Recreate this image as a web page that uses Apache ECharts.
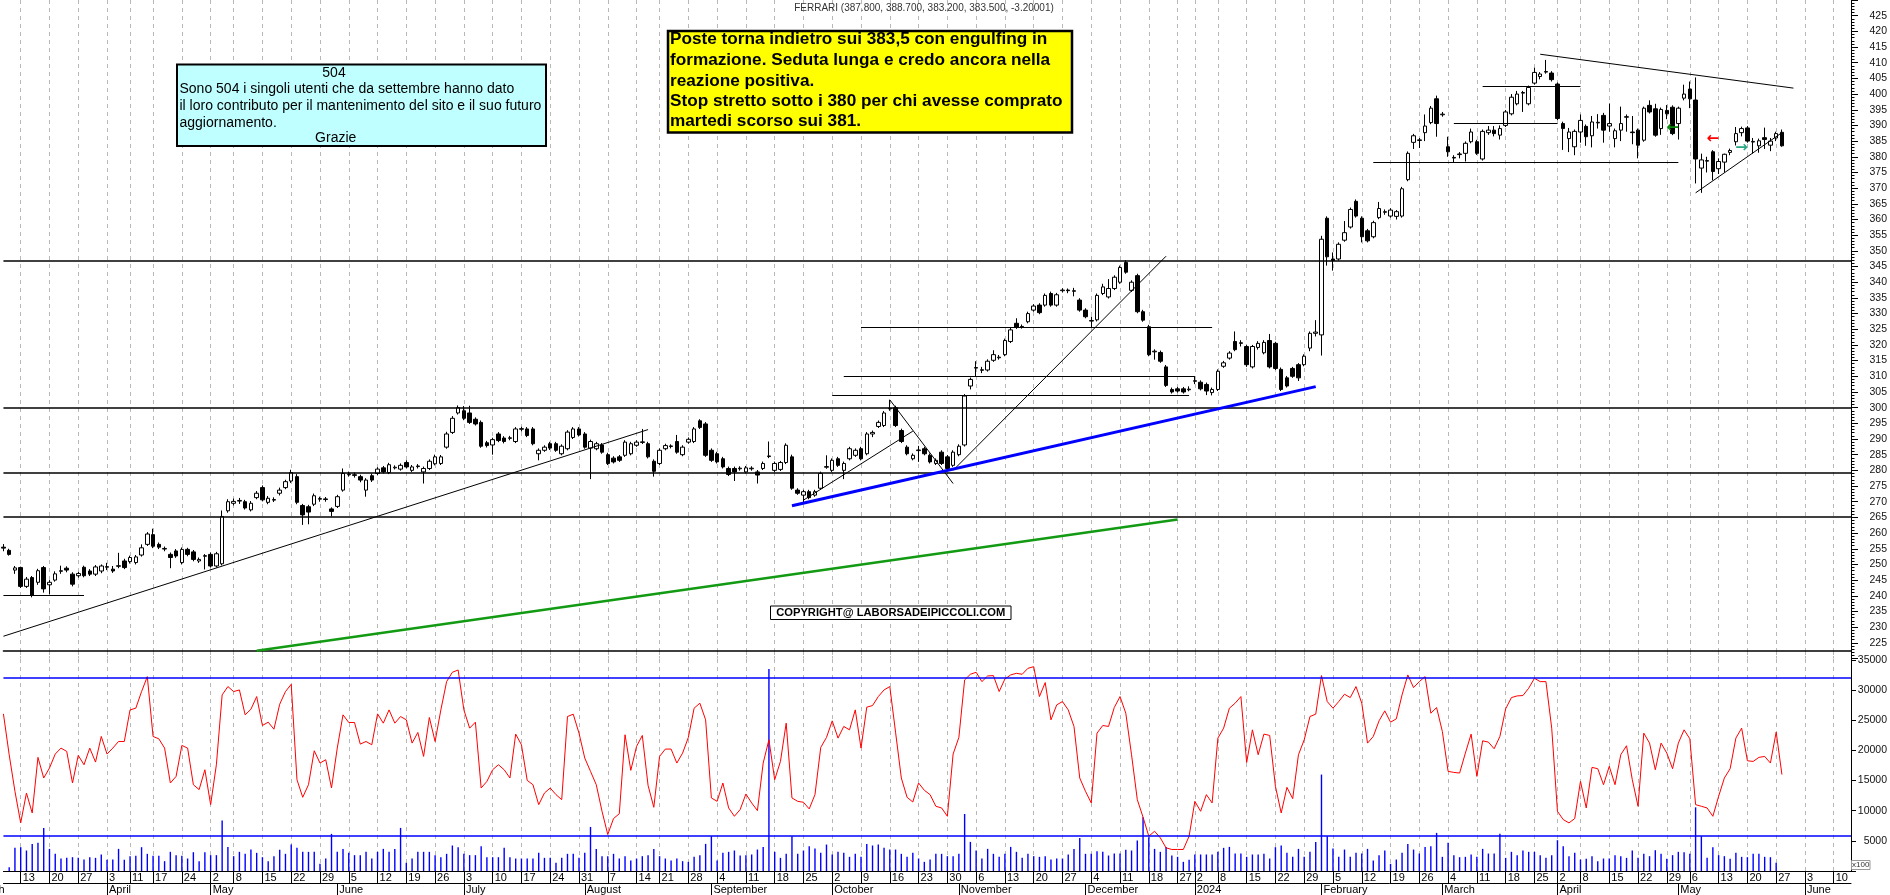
<!DOCTYPE html>
<html><head><meta charset="utf-8">
<script src="https://cdn.jsdelivr.net/npm/echarts/dist/echarts.min.js"></script>
<style>html,body{margin:0;padding:0;background:#fff;overflow:hidden}#c{width:1890px;height:895px}</style>
</head><body><div id="c"></div>
<script>
// ---------- calendar (Borsa Italiana trading days) ----------
const holidays = ['2023-04-07','2023-04-10','2023-05-01','2023-08-15','2023-12-25','2023-12-26','2024-01-01','2024-03-29','2024-04-01','2024-05-01'];
function buildDays(start, end){
  const out=[]; const d=new Date(start+'T00:00:00Z'); const e=new Date(end+'T00:00:00Z');
  while(d<=e){const wd=d.getUTCDay(); const s=d.toISOString().slice(0,10);
    if(wd!==0&&wd!==6&&holidays.indexOf(s)<0) out.push(s); d.setUTCDate(d.getUTCDate()+1);}
  return out;
}
const categories = buildDays('2023-03-08','2024-06-13');
const monthNames = ['January','February','March','April','May','June','July','August','September','October','November','December'];

// ---------- price candles [open, close, low, high] from 2023-03-08 ----------
const candles = [
[255.5,255.2,254.2,256.5],[254.5,253.2,252.8,255.0],[248.2,248.9,247.0,249.5],
[249.0,243.0,242.5,249.3],[243.0,245.3,242.5,246.0],[245.8,240.2,239.5,246.3],[244.3,248.0,243.5,248.6],[249.0,242.2,241.0,249.5],
[243.5,244.3,240.5,245.0],[245.0,247.0,244.5,247.8],[247.8,248.0,247.0,249.6],[248.8,248.2,247.5,249.4],[246.9,243.7,243.0,247.5],
[246.4,247.1,245.8,247.6],[249.1,246.4,245.9,249.6],[247.9,246.9,246.3,248.5],[246.9,249.2,246.3,249.8],[247.9,249.5,247.2,250.0],
[249.1,249.3,248.2,250.5],[248.5,247.9,247.3,249.5],[249.4,249.6,248.8,253.7],[251.1,249.0,248.5,251.8],
[250.9,252.2,250.3,252.8],[250.6,252.4,250.0,253.0],[253.0,255.3,252.5,256.4],[256.4,259.7,255.9,260.3],
[259.5,255.8,255.2,261.4],[256.4,255.5,254.9,257.0],[254.9,255.1,254.2,255.7],[253.2,252.2,248.8,253.8],[254.3,252.7,252.1,254.9],
[250.6,254.8,250.0,255.4],[254.8,253.2,252.6,255.3],[254.0,251.6,251.0,254.6],[251.1,251.6,250.5,252.2],[252.6,252.8,248.4,253.3],
[253.2,249.5,249.0,253.8],[249.5,253.4,249.0,254.0],[250.2,265.3,249.7,267.2],[267.1,270.0,266.5,270.8],
[269.5,270.1,268.8,271.0],[270.2,270.4,269.3,271.2],[270.0,268.0,267.5,270.6],[267.4,269.5,266.9,270.2],[271.3,272.7,270.8,273.4],
[274.5,270.6,270.1,275.2],[269.8,271.1,269.2,271.8],[270.5,270.7,269.9,271.4],[272.7,273.7,272.0,274.5],[274.5,276.4,274.0,277.0],
[276.6,279.3,276.0,280.2],[278.0,269.8,269.2,278.8],[268.8,265.8,262.6,269.3],[268.4,266.7,262.8,269.0],[269.2,271.9,268.6,272.6],
[270.8,271.0,270.0,271.6],[270.9,270.7,270.0,271.5],[267.7,266.9,265.3,268.2],[268.5,271.6,268.0,272.2],[273.7,279.0,273.2,280.6],
[278.6,278.8,278.0,279.6],[278.6,278.4,277.7,279.3],[278.0,276.9,276.2,278.6],[273.7,276.9,271.6,277.5],[278.3,276.9,276.3,279.0],
[279.0,280.4,278.5,281.0],[280.8,279.5,279.0,281.4],[279.3,281.8,278.8,282.4],[280.8,281.0,280.3,281.6],[280.4,281.6,279.9,282.2],
[282.5,281.1,280.6,283.2],[280.0,281.1,279.5,281.7],[281.2,281.4,280.6,282.0],[279.5,280.6,275.8,281.2],[280.6,282.9,280.1,283.5],
[282.1,284.3,281.6,285.0],[282.2,284.3,281.7,284.9],[287.4,291.6,286.9,292.3],[292.1,296.6,291.6,297.3],[298.3,300.0,297.8,300.7],
[299.0,296.6,296.0,300.5],[298.3,295.3,294.8,300.6],[296.3,294.8,294.3,296.9],[295.3,287.7,287.2,295.9],[288.8,287.9,287.3,289.4],
[288.1,289.8,285.0,290.4],[291.6,289.5,289.0,292.2],[290.3,289.2,288.6,290.9],[290.2,290.4,289.6,291.0],[289.2,293.2,288.7,293.8],
[293.1,293.3,292.4,293.9],[293.2,291.1,290.6,293.8],[293.2,288.5,288.0,293.8],[285.3,286.4,283.2,287.0],[286.4,287.4,285.9,288.0],
[288.5,287.1,286.5,289.1],[288.5,286.4,285.9,289.1],[285.3,287.7,284.8,288.3],[286.9,292.2,286.4,292.8],[290.5,293.2,290.0,293.8],
[293.2,291.3,290.8,293.8],[291.6,287.4,286.9,292.2],[287.1,289.2,277.2,289.8],[286.9,288.5,286.4,289.1],[288.1,285.8,285.3,288.7],
[285.0,282.2,281.7,285.6],[283.9,282.7,282.2,284.5],[284.3,283.2,282.7,284.9],[284.8,289.0,284.3,289.6],[285.3,288.5,284.8,289.1],
[288.0,289.0,287.5,289.6],[288.9,289.1,288.4,293.2],[288.5,284.3,283.8,289.1],[282.9,279.7,278.0,283.5],
[282.2,286.4,281.7,287.0],[286.9,287.9,286.4,288.5],[287.6,287.8,287.0,288.3],[289.2,285.8,285.3,291.3],[285.0,287.4,284.5,288.0],
[289.0,289.9,288.5,290.5],[289.2,293.2,288.7,293.8],[295.8,293.7,293.2,296.3],[294.8,284.8,284.3,295.4],[286.4,283.2,282.7,287.0],
[285.3,282.7,282.2,285.9],[283.7,281.1,280.6,284.3],[280.6,278.7,278.2,281.2],[280.6,279.5,276.6,281.2],[280.5,280.7,279.9,281.3],
[279.5,280.8,279.0,281.4],[280.5,280.7,279.9,281.3],[279.5,278.5,275.8,280.1],[280.6,282.2,280.1,282.8],[284.4,284.6,283.9,289.2],
[280.0,282.2,279.5,282.8],[280.3,282.5,279.8,283.0],[282.5,288.0,282.0,288.6],[284.3,274.3,273.8,285.0],[273.7,272.7,272.2,274.3],
[272.1,273.2,269.5,273.8],[273.2,271.3,270.8,273.8],[272.1,273.2,271.6,273.8],[274.3,279.0,273.8,279.6],[281.0,281.2,280.5,284.8],
[280.0,283.2,279.5,283.8],[283.7,281.6,281.1,284.3],[280.0,282.2,277.2,282.8],[283.7,286.9,283.2,287.5],[284.8,286.4,284.3,287.0],
[286.9,283.7,283.2,287.5],[285.3,291.6,284.8,292.2],[291.6,292.1,290.6,292.7],[294.0,295.3,293.5,295.9],[294.3,298.3,293.8,298.9],
[299.6,299.8,299.0,302.5],[300.0,294.3,293.8,300.6],[292.7,289.2,288.7,293.3],[287.4,285.3,284.8,288.0],[283.7,284.8,283.2,285.4],
[286.3,286.5,282.7,287.8],[286.9,285.3,284.8,287.5],[284.8,282.7,282.2,285.4],[282.2,283.2,281.7,283.8],[285.8,282.2,281.7,286.4],
[284.3,280.6,280.1,284.9],[281.6,285.8,281.1,286.4],[285.0,287.7,284.5,288.3],[288.1,303.7,287.6,304.3],[306.9,309.0,305.8,309.6],
[312.6,312.8,310.0,314.8],[311.9,312.1,311.0,313.0],[312.0,314.8,311.5,315.4],[315.1,316.9,314.6,318.3],[315.9,316.1,315.3,316.8],
[316.9,321.4,316.4,322.0],[321.1,324.8,320.6,325.4],[326.9,325.6,325.1,328.5],[325.7,325.9,325.2,326.5],[327.4,330.0,326.9,330.6],
[331.1,332.4,330.6,333.0],[332.7,330.3,329.8,333.3],[332.7,335.8,332.2,336.4],[336.4,332.7,332.2,337.0],[332.7,336.0,332.2,336.6],
[337.3,337.5,336.7,338.1],[337.5,337.3,336.5,338.0],[337.1,337.3,335.5,338.2],[334.3,331.1,330.6,334.9],[331.1,329.0,328.5,331.7],
[327.6,327.8,325.5,329.0],[328.0,335.8,327.5,336.4],[336.4,338.5,335.9,339.5],[335.3,338.0,334.8,341.0],[338.0,341.6,337.5,342.2],
[340.0,344.7,339.5,345.3],[346.3,343.2,342.7,347.0],[337.4,340.0,336.9,340.6],[342.1,330.6,330.1,342.7],[330.6,327.9,327.4,331.2],
[325.8,316.9,316.4,326.4],[317.8,318.0,315.3,318.6],[317.6,314.8,314.3,318.2],[313.0,307.1,306.6,313.6],[305.8,305.0,304.5,306.4],
[306.0,305.3,304.8,306.6],[306.0,305.0,304.5,306.6],[305.7,305.9,305.2,306.8],
[308.4,308.6,307.5,310.0],[308.1,306.0,305.5,308.7],[307.4,305.3,304.0,308.0],[304.8,305.8,303.9,306.4],
[305.8,311.6,305.3,312.2],[313.2,314.3,312.7,314.9],[315.8,317.4,315.3,318.0],[321.1,318.5,318.0,324.3],[320.5,320.7,319.5,321.5],
[319.5,313.7,313.0,320.0],[313.0,319.5,312.5,320.0],[319.2,320.5,318.5,321.2],[317.5,320.8,317.0,321.5],[321.4,313.0,312.5,323.5],
[320.5,312.5,312.0,321.0],[312.2,305.8,305.3,312.8],[309.5,306.9,306.4,310.1],[312.5,310.0,309.5,313.0],[313.7,309.5,308.5,314.2],
[313.7,316.4,313.2,317.0],[319.0,323.7,318.0,324.3],[323.7,324.1,322.7,327.9],[323.2,353.7,316.6,354.8],[360.4,348.1,345.3,361.0],
[347.4,346.9,343.7,349.5],[347.4,352.1,346.9,352.7],[353.4,355.8,352.9,359.5],[357.6,363.2,357.1,363.8],[365.8,361.1,360.6,366.4],
[360.4,354.5,352.7,361.0],[356.4,353.2,352.7,357.0],[354.5,359.0,354.0,359.6],[360.6,363.5,360.1,365.6],[362.3,362.5,361.5,363.2],
[361.1,363.0,360.6,363.6],[361.0,362.5,360.0,363.0],[361.1,369.8,360.6,370.4],[372.7,381.1,372.2,381.7],[384.6,386.7,382.5,387.3],
[385.2,385.4,382.8,386.0],[387.7,389.8,385.0,393.5],[390.9,395.5,390.4,396.2],[398.5,390.6,386.4,399.5],[393.4,393.6,392.8,394.3],
[383.2,381.6,380.0,386.4],[379.8,379.6,378.2,380.5],[380.7,380.9,379.5,381.5],[381.1,384.3,378.5,384.9],[384.8,387.9,384.3,389.0],
[384.8,381.1,380.6,385.4],[379.3,388.1,378.8,388.7],[387.7,388.5,387.0,389.8],[388.5,387.4,386.5,389.8],[386.9,389.0,385.5,390.0],
[390.0,394.3,389.5,394.9],[393.7,399.0,393.2,400.0],[396.9,400.0,396.4,401.0],[400.3,400.5,394.3,401.0],[396.9,402.1,396.4,402.7],
[403.5,406.9,403.0,408.4],[405.6,406.4,404.7,407.0],[407.0,407.2,406.5,410.9],[406.7,404.6,404.0,407.3],
[403.2,392.2,391.7,403.7],[390.6,389.0,382.2,391.2],[385.8,387.9,381.5,389.2],[383.2,388.1,380.5,388.7],
[387.9,391.6,384.5,393.5],[389.7,386.4,383.5,390.3],[386.7,391.1,383.0,393.0],[390.8,391.0,389.0,393.6],[393.2,388.5,384.5,394.0],
[389.8,390.6,388.0,397.0],[385.8,388.3,383.0,389.0],[388.5,390.6,385.0,396.0],[392.6,392.8,388.0,393.5],[387.9,387.7,384.0,393.0],
[388.5,383.7,379.5,389.0],[385.3,395.5,384.8,396.0],[396.4,394.3,393.8,398.0],[395.3,386.9,386.4,396.9],[389.0,395.1,387.0,395.7],
[394.8,393.7,392.0,396.5],[395.8,387.4,386.9,396.4],[390.6,395.5,385.5,396.0],[398.7,400.0,398.0,403.0],
[401.6,398.5,395.5,404.0],[398.1,379.3,371.5,405.3],[376.4,379.0,368.5,381.0],[378.6,378.8,375.0,380.0],[381.6,375.3,372.5,382.1],
[376.2,378.5,374.5,379.5],[378.3,380.8,375.0,381.0],[381.4,382.0,380.5,382.6],[384.8,387.4,383.6,389.5],[387.7,389.0,386.5,389.6],
[389.2,385.0,384.5,389.8],[384.7,384.9,381.0,386.0],[383.5,385.1,381.3,385.8],[386.1,385.5,382.5,389.3],[383.7,385.0,381.8,386.0],
[386.0,387.4,385.0,388.0],[387.8,383.5,383.2,388.7]
];

// ---------- lower panel: oscillator (red) and volume (x100), from 2023-03-08 ----------
const oscillator = [
26070,19290,13220,7980,12940,9630,18850,15430,17080,19400,20390,19840,14600,19180,17630,20390,18070,22320,19400,20390,
21490,21490,26730,27010,29770,32250,22320,21930,20390,14600,15700,20830,20390,14320,13500,16800,11010,17630,29220,30600,
29770,30040,25910,26840,28940,24140,24690,23530,27670,29770,30980,15150,12230,14320,19950,17910,18460,13770,20390,25910,
24640,24640,21050,21490,20940,26070,24530,26730,24530,25630,25080,21220,22980,19010,25470,21490,26730,31420,32970,33350,
26730,23700,24690,13770,14870,16800,17630,16800,15430,22710,20940,15040,14320,11010,12940,13770,12670,11840,25630,26020,
22870,18740,16530,14320,9910,6050,8700,9500,22600,16700,20670,22490,14200,10570,19010,20230,20230,17910,19560,22160,
27010,27840,25080,12120,11560,14600,10460,9080,10190,12780,11290,10020,17910,21770,15150,18180,24530,12120,11560,11400,
10300,12670,20500,22160,24910,22050,23980,23420,26730,20390,27180,27450,28940,30040,30600,23040,15430,12230,11450,14600,
13390,12670,10740,10460,9080,19400,22160,31700,32640,32970,31420,32360,32420,29770,31860,32530,32800,32640,33630,33900,
28940,31260,25080,27560,28110,26730,23980,15430,13220,11290,22870,24140,23980,27120,28940,26180,19290,11840,8920,5770,
6600,5500,3840,3570,3570,3570,5770,11560,9910,12670,11290,22050,23700,27010,27840,28940,18000,23420,19290,22710,
22490,14050,9630,13880,12010,19290,21770,25630,26020,32420,28110,27010,28110,29330,28770,30600,27840,21220,22320,24910,
26570,24690,25240,29220,32530,30430,31420,32250,26180,27120,23150,16530,16360,16250,19560,22710,15700,21600,21380,20280,
22320,26900,28770,29050,29110,30320,31970,31420,31420,23700,9910,8530,7980,8700,14870,10460,17190,16970,14320,17360,
14320,19290,20780,15150,10740,22870,21220,16800,21220,19560,16970,21220,23420,21930,11010,10740,10460,9080,12390,15430,
16970,22050,23700,18290,18180,18850,19010,17910,23040,16000
];
const volume = [
null,640,3840,3950,3400,4500,4670,7150,3670,2850,2070,2180,2290,2180,1900,2290,2180,2740,1850,1900,
3670,1850,2460,2520,3950,2850,2520,2520,1630,3180,2630,2520,2070,3120,1630,3120,2630,2630,8360,4000,
2460,3180,2850,3560,3010,2290,1630,2460,3510,2850,4390,3840,3180,3180,3180,1190,2070,6160,3180,3670,
3010,2630,2630,3180,2070,3180,3670,3180,3670,7150,1360,2070,3180,3180,3180,2630,2290,2850,4230,3950,
2850,2630,2630,4120,2290,2290,2290,3840,2290,2070,2070,2070,2070,3010,2180,2180,1360,2180,2850,2850,
2180,3010,7310,3670,2460,2460,2850,2070,2460,1740,2070,2460,2630,3670,2460,2070,1740,2070,1630,1520,
2350,2630,4500,5770,1740,3010,3180,3400,2570,2630,2740,3560,4000,33520,3180,2180,2850,5770,2850,3400,
4120,3730,3010,4390,2740,3180,3010,2350,2850,2350,4500,4230,4390,3840,3560,3560,2850,2350,3010,2070,
1520,1900,2850,2850,2460,2460,2850,9460,4830,3400,2070,3670,2850,2350,2850,4000,3180,2180,2850,2460,
2350,2460,1900,2070,2070,2740,3670,5490,2850,2850,3290,3180,2570,2900,2900,3510,3400,5050,8910,5600,
3670,3180,4000,2570,2350,1520,1850,2740,2740,2740,2740,3180,3840,4000,2900,2900,2350,2740,2740,2850,
2070,3950,4230,3010,2350,3670,2350,3180,4830,16000,5770,3730,2350,3560,2350,3010,2900,3670,1740,2630,
3400,1190,1900,3010,4500,3560,2900,4000,4120,6320,2350,4670,2630,2290,2350,2740,2350,3670,2900,2900,
6160,2180,3180,2630,3400,3180,3180,2630,2180,2630,5110,4120,2460,3010,1900,2020,2460,1630,2070,2070,
2630,2460,2180,3400,2180,2850,2460,3450,2850,2020,2630,3180,3120,2850,10560,5770,2180,3950,2630,2460,
2020,3010,2350,2290,2850,2850,2350,2290,1360
];

// ---------- annotation lines ----------
const priceLevels = [346.7, 300.0, 279.2, 265.3];
const volLevels = [32080, 5770];
// [date from, price from, date to, price to]
const thinLines = [
  ['2023-03-08',240.3,'2023-03-28',240.3],
  ['2023-03-08',227.1,'2023-08-17',293.0],
  ['2023-09-25',270.5,'2023-10-20',292.5],
  ['2023-10-16',302.5,'2023-10-31',275.8],
  ['2023-10-31',280.0,'2023-12-21',348.3],
  ['2023-10-09',325.5,'2024-01-05',325.5],
  ['2023-10-04',310.0,'2024-01-02',310.0],
  ['2023-10-02',304.0,'2023-12-29',304.0],
  ['2024-02-14',378.2,'2024-05-02',378.2],
  ['2024-03-05',390.6,'2024-04-02',390.6],
  ['2024-03-12',402.6,'2024-04-08',402.6],
  ['2024-03-26',412.7,'2024-05-30',401.9],
  ['2024-05-07',368.5,'2024-05-28',387.7]
];
const greenLine = ['2023-05-12',222.5,'2023-12-27',264.3];
const blueLine = ['2023-09-21',268.7,'2024-01-31',306.7];
// [date, price, glyph, color]
const arrows = [
  ['2024-04-30',389.0,'\u2190','#0a8a0a'],
  ['2024-05-10',385.5,'\u2190','#ff0000'],
  ['2024-05-17',382.7,'\u2192','#2aa886']
];

// ---------- derived helpers ----------
function mondayKey(s){const d=new Date(s+'T00:00:00Z');const wd=(d.getUTCDay()+6)%7;d.setUTCDate(d.getUTCDate()-wd);return d.toISOString().slice(0,10);}
const weekStart = categories.map((s,k)=>k>0 && mondayKey(s)!==mondayKey(categories[k-1]));
const monthStart = categories.map((s,k)=>k>0 && s.slice(0,7)!==categories[k-1].slice(0,7));
const wsFn = (idx)=>weekStart[idx];
const msFn = (idx)=>monthStart[idx];
const FONT = '"Liberation Sans", Arial, sans-serif';

function seg(a, style){ return [{coord:[a[0],a[1]], lineStyle:style},{coord:[a[2],a[3]]}]; }
const markLineData = []
  .concat(priceLevels.map(v=>({yAxis:v, lineStyle:{color:'#000',width:1.5,type:'solid'}})))
  .concat(thinLines.map(a=>seg(a,{color:'#000',width:1,type:'solid'})))
  .concat([seg(greenLine,{color:'#139a13',width:2.5,type:'solid'})])
  .concat([seg(blueLine,{color:'#0000ff',width:3,type:'solid'})]);

const chart = echarts.init(document.getElementById('c'), null, {renderer:'canvas'});
const gridLeft = 3.43, gridRight = 1890-1851.1;
const dashed = {show:true, lineStyle:{color:'#b8b8b8', width:1, type:[4,4]}};

function txt(x, y, text, font, align){
  return {type:'text', x:x, y:y, z:101, style:{text:text, fill:'#000', font:font,
    textAlign:align, textVerticalAlign:'middle', align:align, verticalAlign:'middle'}};
}
const boxFont = '14px '+FONT;
const yelFont = 'bold 17.2px '+FONT;

chart.setOption({
  animation:false,
  backgroundColor:'#ffffff',
  grid:[
    {left:gridLeft, right:gridRight, top:-6.5, height:665},
    {left:gridLeft, right:gridRight, top:651, height:220.5}
  ],
  xAxis:[
    {type:'category', gridIndex:0, data:categories, boundaryGap:false,
     axisLine:{show:false}, axisTick:{show:false}, axisLabel:{show:false},
     splitLine:Object.assign({interval:wsFn}, dashed)},
    {type:'category', gridIndex:1, data:categories, boundaryGap:false, position:'bottom',
     axisLine:{show:true, onZero:false, lineStyle:{color:'#000',width:1}},
     axisTick:{show:true, interval:wsFn, length:12, lineStyle:{color:'#000'}},
     axisLabel:{show:true, interval:wsFn, align:'left', padding:[0,0,0,2], margin:1,
       fontSize:11, fontFamily:FONT, color:'#000', formatter:(v)=>String(+v.slice(8))},
     splitLine:Object.assign({interval:wsFn}, dashed)},
    {type:'category', gridIndex:1, data:categories, boundaryGap:false, position:'bottom', offset:12,
     axisLine:{show:true, onZero:false, lineStyle:{color:'#000',width:1}},
     axisTick:{show:true, interval:msFn, length:12, lineStyle:{color:'#000'}},
     axisLabel:{show:true, interval:msFn, align:'left', padding:[0,0,0,2], margin:1,
       fontSize:11, fontFamily:FONT, color:'#000',
       formatter:(v)=>{const m=+v.slice(5,7); return m===1 ? v.slice(0,4) : monthNames[m-1];}},
     splitLine:{show:false}},
    {type:'category', gridIndex:1, data:categories, boundaryGap:false, position:'top',
     axisLine:{show:true, onZero:false, lineStyle:{color:'#000',width:1.5}},
     axisTick:{show:false}, axisLabel:{show:false}, splitLine:{show:false}}
  ],
  yAxis:[
    {type:'value', gridIndex:0, position:'right', min:220, max:430, interval:5,
     axisLine:{show:true, lineStyle:{color:'#000',width:1}},
     axisTick:{show:true, length:7, lineStyle:{color:'#000'}},
     minorTick:{show:true, splitNumber:5, length:3.5, lineStyle:{color:'#000'}},
     axisLabel:{show:true, align:'right', margin:36, fontSize:10.5, fontFamily:FONT, color:'#111',
       showMinLabel:false, showMaxLabel:false,
       formatter:(v)=>(v>=225 && v<=425) ? String(v) : ''},
     splitLine:{show:false}},
    {type:'value', gridIndex:1, position:'right', min:0, max:36500, interval:5000,
     axisLine:{show:true, lineStyle:{color:'#000',width:1}},
     axisTick:{show:true, length:5, lineStyle:{color:'#000'}},
     axisLabel:{show:true, align:'right', margin:36, fontSize:10.5, fontFamily:FONT, color:'#111',
       formatter:(v)=>v>0 ? String(v) : ''},
     splitLine:{show:false}}
  ],
  series:[
    {type:'candlestick', xAxisIndex:0, yAxisIndex:0, data:candles, barWidth:4,
     itemStyle:{color:'#ffffff', color0:'#000000', borderColor:'#000000', borderColor0:'#000000', borderWidth:1},
     markLine:{silent:true, symbol:['none','none'], label:{show:false}, animation:false, data:markLineData},
     markPoint:{silent:true, symbol:'rect', symbolSize:[1,1], itemStyle:{color:'rgba(0,0,0,0)'},
       data:arrows.map(a=>({coord:[a[0],a[1]], value:a[2],
         label:{show:true, position:'inside', formatter:a[2], color:a[3], fontSize:15, fontWeight:'bold', fontFamily:'DejaVu Sans'}}))}},
    {type:'bar', xAxisIndex:1, yAxisIndex:1, data:volume, barWidth:1.4, itemStyle:{color:'#0000ff'}, z:2},
    {type:'line', xAxisIndex:1, yAxisIndex:1, data:oscillator, symbol:'none', z:3,
     lineStyle:{color:'#ff0000', width:1},
     markLine:{silent:true, symbol:['none','none'], label:{show:false},
       data:volLevels.map(v=>({yAxis:v, lineStyle:{color:'#0000ff', width:1.5, type:'solid'}}))}}
  ],
  graphic:[
    {type:'text', x:924, y:8.5, z:101, style:{text:'FERRARI (387.800, 388.700, 383.200, 383.500, -3.20001)', fill:'#333',
      font:'10px '+FONT, textAlign:'center', textVerticalAlign:'middle', align:'center', verticalAlign:'middle'}},
    {type:'rect', z:100, shape:{x:177, y:64.5, width:369, height:81.5}, style:{fill:'#c0ffff', stroke:'#000', lineWidth:2}},
    txt(334, 72.7, '504', boxFont, 'center'),
    txt(179.5, 89.3, 'Sono 504 i singoli utenti che da settembre hanno dato', boxFont, 'left'),
    txt(179.5, 106.5, 'il loro contributo per il mantenimento del sito e il suo futuro', boxFont, 'left'),
    txt(179.5, 122.7, 'aggiornamento.', boxFont, 'left'),
    txt(335.7, 138.3, 'Grazie', boxFont, 'center'),
    {type:'rect', z:100, shape:{x:668, y:31, width:404, height:101.5}, style:{fill:'#ffff00', stroke:'#000', lineWidth:2.5}},
    txt(670, 39.5, 'Poste torna indietro sui 383,5 con engulfing in', yelFont, 'left'),
    txt(670, 60.5, 'formazione. Seduta lunga e credo ancora nella', yelFont, 'left'),
    txt(670, 81, 'reazione positiva.', yelFont, 'left'),
    txt(670, 101.5, 'Stop stretto sotto i 380 per chi avesse comprato', yelFont, 'left'),
    txt(670, 121.5, 'martedi scorso sui 381.', yelFont, 'left'),
    {type:'rect', z:100, shape:{x:770.5, y:606, width:240.5, height:13.5}, style:{fill:'#ffffff', stroke:'#000', lineWidth:1}},
    txt(890.7, 613, 'COPYRIGHT@ LABORSADEIPICCOLI.COM', 'bold 11.2px '+FONT, 'center'),
    {type:'rect', z:100, shape:{x:1851.5, y:860.5, width:18.5, height:9}, style:{fill:'#ffffff', stroke:'#999', lineWidth:1}},
    {type:'text', x:1860.7, y:865.2, z:101, style:{text:'x100', fill:'#333', font:'8px '+FONT, textAlign:'center', textVerticalAlign:'middle', align:'center', verticalAlign:'middle'}},
    txt(4.5, 889.5, 'March', '11px '+FONT, 'right')
  ]
});
</script></body></html>
